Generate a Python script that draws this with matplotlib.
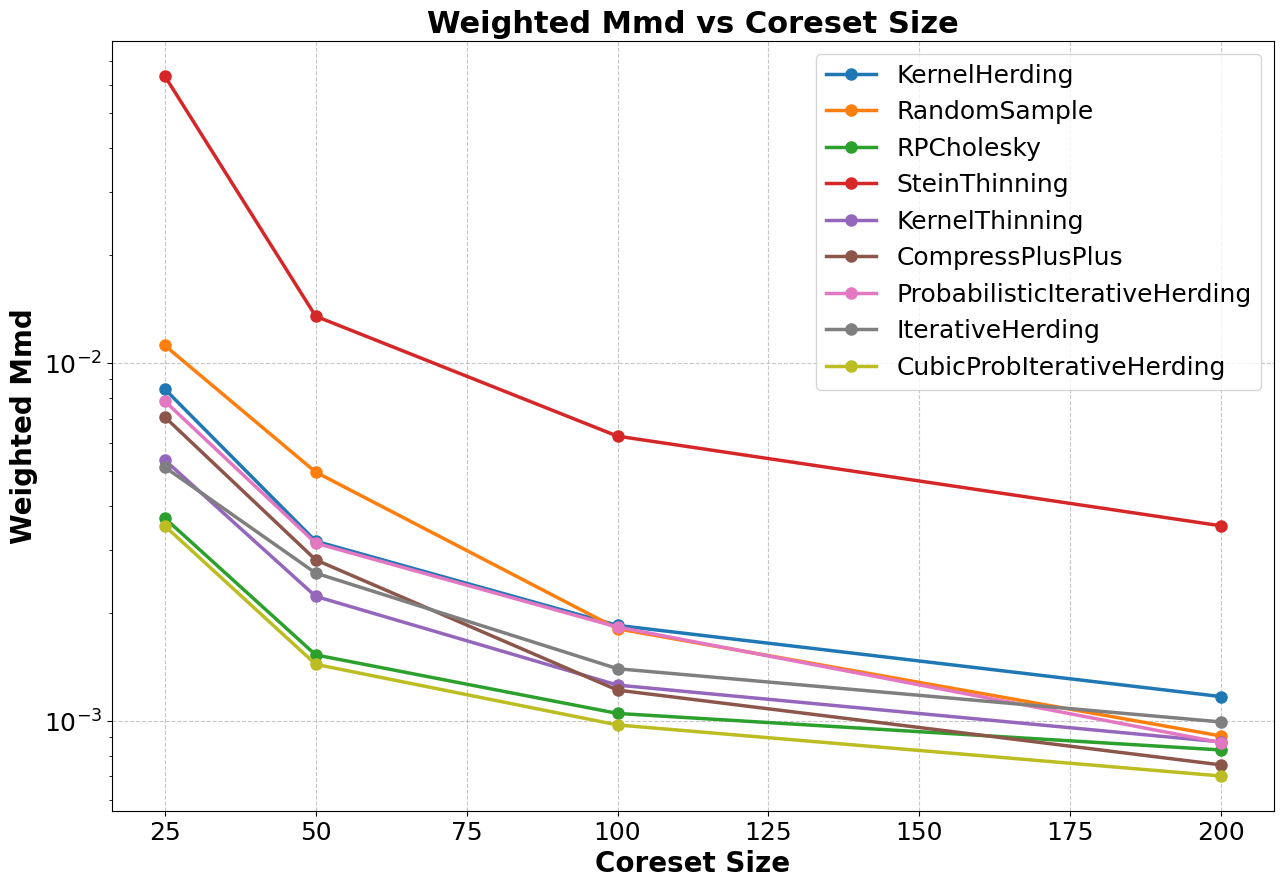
import matplotlib
matplotlib.use("Agg")
import matplotlib.pyplot as plt

sizes = [25, 50, 100, 200]
kernel_herding = [0.00846, 0.00318, 0.00185, 0.00117]
random_sample = [0.0112, 0.00496, 0.00181, 0.000908]
rp_cholesky = [0.00369, 0.00153, 0.00105, 0.00083]
stein_thinning = [0.0634, 0.01352, 0.00625, 0.00351]
kernel_thinning = [0.00536, 0.00223, 0.00126, 0.000874]
compress_pp = [0.00707, 0.00282, 0.00122, 0.000754]
prob_iter_herding = [0.00783, 0.00314, 0.00183, 0.00087]
iter_herding = [0.00512, 0.00259, 0.0014, 0.000994]
cubic_prob_iter_herding = [0.00351, 0.00144, 0.000975, 0.000702]

series = [
    ("KernelHerding", kernel_herding),
    ("RandomSample", random_sample),
    ("RPCholesky", rp_cholesky),
    ("SteinThinning", stein_thinning),
    ("KernelThinning", kernel_thinning),
    ("CompressPlusPlus", compress_pp),
    ("ProbabilisticIterativeHerding", prob_iter_herding),
    ("IterativeHerding", iter_herding),
    ("CubicProbIterativeHerding", cubic_prob_iter_herding),
]

fig, ax = plt.subplots(figsize=(12.84, 8.88), dpi=100)
for name, vals in series:
    ax.plot(sizes, vals, marker='o', linewidth=2.5, markersize=8, label=name)
ax.set_yscale('log')
ax.set_title("Weighted Mmd vs Coreset Size", fontsize=22, fontweight='bold')
ax.set_xlabel("Coreset Size", fontsize=20, fontweight='bold')
ax.set_ylabel("Weighted Mmd", fontsize=20, fontweight='bold')
ax.tick_params(axis='both', which='major', labelsize=18)
ax.grid(True, which='major', linestyle='--', alpha=0.7)
ax.legend(fontsize=18, loc='upper right')
fig.subplots_adjust(left=0.0872, right=0.9922, top=0.9538, bottom=0.0867)
fig.savefig("out.png", dpi=100)
